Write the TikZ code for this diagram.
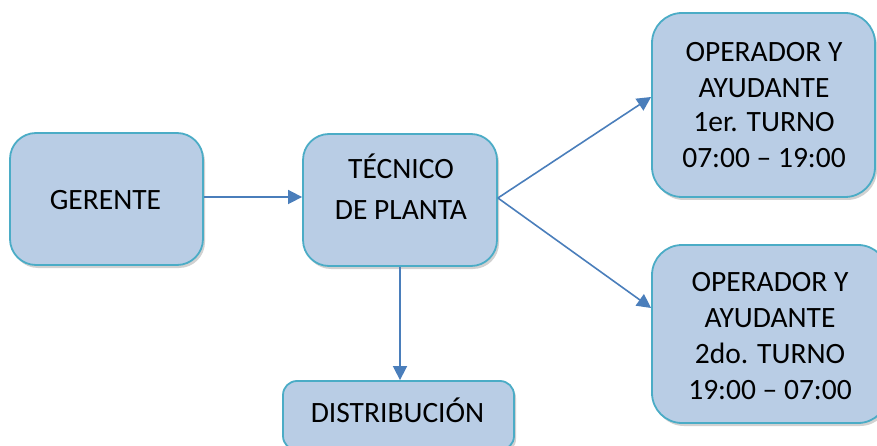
\documentclass[tikz,border=0pt]{standalone}
\usepackage{fontspec}
\setmainfont{Carlito}
\usetikzlibrary{shadows,arrows.meta,calc}
\definecolor{boxfill}{HTML}{B9CDE5}
\definecolor{boxline}{HTML}{4BACC6}
\definecolor{arr}{HTML}{4A7EBB}
\tikzset{
  orgbox/.style={draw=boxline, line width=1.8pt, fill=boxfill, rounded corners=26pt,
    inner sep=0pt, drop shadow={shadow xshift=2pt, shadow yshift=-3pt, opacity=0.3, fill=black!60}},
  lbl/.style={font=\fontsize{29.5}{34}\selectfont, anchor=base, inner sep=0pt},
  conn/.style={draw=arr, line width=1.6pt, -{Triangle[length=14pt,width=14pt]}}
}
\begin{document}
\begin{tikzpicture}[x=1pt,y=-1pt]
\useasboundingbox (0,0) rectangle (877,446);
\clip (0,0) rectangle (877,446);
\node[orgbox, minimum width=193pt, minimum height=132pt] (ger) at (106.5,199) {};
\node[orgbox, minimum width=194pt, minimum height=132pt] (tec) at (400,200) {};
\node[orgbox, minimum width=223pt, minimum height=184pt, rounded corners=30pt] (op1) at (763.5,105) {};
\node[orgbox, minimum width=236pt, minimum height=178pt, rounded corners=30pt] (op2) at (770,334) {};
\node[orgbox, minimum width=231pt, minimum height=69pt, rounded corners=14pt] (dist) at (398.5,415.5) {};

\node[lbl] (tger) at (105.5,209.3) {GERENTE};
\node[lbl] (ttec1) at (401,179) {TÉCNICO};
\node[lbl] (ttec2) at (401,220) {DE PLANTA};
\node[lbl] (to11) at (764,61.7) {OPERADOR Y};
\node[lbl] (to12) at (764,97.3) {AYUDANTE};
\node[lbl] (to13) at (764,131.7) {1er. TURNO};
\node[lbl] (to14) at (764,167.7) {07:00 – 19:00};
\node[lbl] (to21) at (770,291.7) {OPERADOR Y};
\node[lbl] (to22) at (770,327.7) {AYUDANTE};
\node[lbl] (to23) at (770,363.3) {2do. TURNO};
\node[lbl] (to24) at (770,399.3) {19:00 – 07:00};
\node[lbl] (tdist) at (397.5,422.7) {DISTRIBUCIÓN};

\draw[conn] ($(ger.east)+(0,-2)$) -- ($(tec.west)+(0,-3)$);
\draw[conn] ($(tec.east)+(0,-2)$) -- ($(op1.west)+(0,-8)$);
\draw[conn] ($(tec.east)+(0,-2)$) -- ($(op2.west)+(0,-26)$);
\draw[conn] (tec.south) -- (tec.south |- dist.north);
\end{tikzpicture}
\end{document}
